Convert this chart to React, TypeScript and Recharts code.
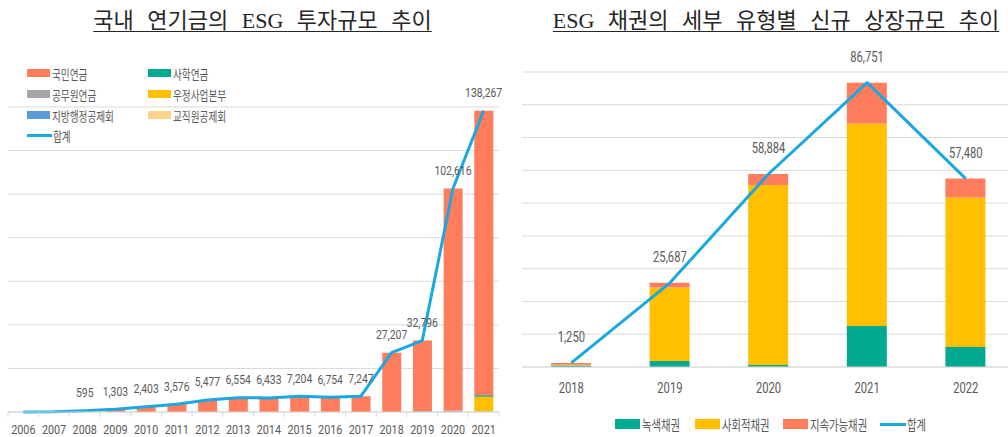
import React from "react";
import { ComposedChart, Bar, Line, XAxis, YAxis, CartesianGrid, LabelList } from "recharts";

// ---------- Left chart data: 국내 연기금의 ESG 투자규모 추이 ----------
const pensionYears = ["2006", "2007", "2008", "2009", "2010", "2011", "2012", "2013", "2014", "2015", "2016", "2017", "2018", "2019", "2020", "2021"];
const npsValues = [30, 150, 595, 1303, 2403, 3576, 5477, 6554, 6433, 7204, 6754, 7247, 27207, 32296, 101916, 130567]; // 국민연금
const teachersPensionValues = [0, 0, 0, 0, 0, 0, 0, 0, 0, 0, 0, 0, 0, 0, 0, 700]; // 사학연금
const civilPensionValues = [0, 0, 0, 0, 0, 0, 0, 0, 0, 0, 0, 0, 0, 500, 700, 300]; // 공무원연금
const postalValues = [0, 0, 0, 0, 0, 0, 0, 0, 0, 0, 0, 0, 0, 0, 0, 6700]; // 우정사업본부
const localGovValues = [0, 0, 0, 0, 0, 0, 0, 0, 0, 0, 0, 0, 0, 0, 0, 0]; // 지방행정공제회
const teachersMutualValues = [0, 0, 0, 0, 0, 0, 0, 0, 0, 0, 0, 0, 0, 0, 0, 0]; // 교직원공제회
const pensionTotal = [30, 150, 595, 1303, 2403, 3576, 5477, 6554, 6433, 7204, 6754, 7247, 27207, 32796, 102616, 138267]; // 합계
const pensionTotalLabels = ["", "", "595", "1,303", "2,403", "3,576", "5,477", "6,554", "6,433", "7,204", "6,754", "7,247", "27,207", "32,796", "102,616", "138,267"];
const pensionTicks = [0, 20000, 40000, 60000, 80000, 100000, 120000, 140000];

// ---------- Right chart data: ESG 채권의 세부 유형별 신규 상장규모 추이 ----------
const bondYears = ["2018", "2019", "2020", "2021", "2022"];
const greenBonds = [450, 1800, 600, 12500, 6100]; // 녹색채권
const socialBonds = [200, 22487, 54934, 61800, 45580]; // 사회적채권
const sustainableBonds = [600, 1400, 3350, 12451, 5800]; // 지속가능채권
const bondTotal = [1250, 25687, 58884, 86751, 57480]; // 합계
const bondTotalLabels = ["1,250", "25,687", "58,884", "86,751", "57,480"];
const bondTicks = [0, 10000, 20000, 30000, 40000, 50000, 60000, 70000, 80000, 90000];

// ---------- styles ----------
const FONT_KR = "'Noto Sans CJK KR', 'Noto Sans', sans-serif";
const FONT_TITLE = "'Liberation Serif', 'Noto Sans CJK KR', serif";
const FONT_NUM = "'Roboto', sans-serif";
const NUM_SCALE = 0.8;
const TEXT = "#595959";
const GRID = "#D9D9D9";
const C_NPS = "#FF7C5C";
const C_TEACH = "#00A98F";
const C_CIVIL = "#A5A5A5";
const C_POSTAL = "#FFC000";
const C_LOCAL = "#5B9BD5";
const C_MUTUAL = "#FFD38C";
const C_LINE = "#1BA7E0";

const pensionData = pensionYears.map((year, i) => ({
  year,
  nps: npsValues[i],
  teach: teachersPensionValues[i],
  civil: civilPensionValues[i],
  postal: postalValues[i],
  local: localGovValues[i],
  mutual: teachersMutualValues[i],
  total: pensionTotal[i],
  label: pensionTotalLabels[i],
}));

const bondData = bondYears.map((year, i) => ({
  year,
  green: greenBonds[i],
  social: socialBonds[i],
  sust: sustainableBonds[i],
  total: bondTotal[i],
  label: bondTotalLabels[i],
}));

// left chart geometry
const L_W = 505;
const L_M = { top: 107, right: 6, left: 8, bottom: 0 };
const L_BAND = (L_W - L_M.left - L_M.right) / pensionYears.length;
const L_TICK_MARGIN = 12;

// right chart geometry
const R_W = 520;
const R_M = { top: 72, right: 5, left: 22, bottom: 0 };
const R_TICK_MARGIN = 16;

function NarrowText({ x, y, size, children, dy, baseline }: any) {
  return (
    <text
      transform={`translate(${x},${y}) scale(${NUM_SCALE},1)`}
      textAnchor="middle"
      dy={dy}
      dominantBaseline={baseline}
      fontSize={size}
      fill={TEXT}
      fontFamily={FONT_NUM}
    >
      {children}
    </text>
  );
}

function PensionTick(props: any) {
  const { x, y, payload, index } = props;
  const half = L_BAND / 2;
  const axisY = y - L_TICK_MARGIN;
  return (
    <g>
      <line x1={x - half} x2={x - half} y1={axisY} y2={axisY + 5} stroke={GRID} />
      {index === pensionYears.length - 1 && (
        <line x1={x + half} x2={x + half} y1={axisY} y2={axisY + 5} stroke={GRID} />
      )}
      <NarrowText x={x} y={y} size={13.5} dy="0.71em">{payload.value}</NarrowText>
    </g>
  );
}

function BondTick(props: any) {
  const { x, y, payload } = props;
  return <NarrowText x={x} y={y} size={14} dy="0.71em">{payload.value}</NarrowText>;
}

const makeLabel = (offset: number, fontSize: number) => (props: any) => {
  const { x, y, value } = props;
  if (!value) return null;
  return <NarrowText x={x} y={y - offset} size={fontSize} baseline="central">{value}</NarrowText>;
};

const pensionLegend = [
  { name: "국민연금", color: C_NPS, type: "rect", col: 0, row: 0 },
  { name: "사학연금", color: C_TEACH, type: "rect", col: 1, row: 0 },
  { name: "공무원연금", color: C_CIVIL, type: "rect", col: 0, row: 1 },
  { name: "우정사업본부", color: C_POSTAL, type: "rect", col: 1, row: 1 },
  { name: "지방행정공제회", color: C_LOCAL, type: "rect", col: 0, row: 2 },
  { name: "교직원공제회", color: C_MUTUAL, type: "rect", col: 1, row: 2 },
  { name: "합계", color: C_LINE, type: "line", col: 0, row: 3 },
];
const L_LEG_X = [27, 148];
const L_LEG_Y = [73, 94, 115, 135];

const bondLegend = [
  { name: "녹색채권", color: C_TEACH, type: "rect" },
  { name: "사회적채권", color: C_POSTAL, type: "rect" },
  { name: "지속가능채권", color: C_NPS, type: "rect" },
  { name: "합계", color: C_LINE, type: "line" },
];
const R_LEG_X = [615, 695, 783, 880];
const R_LEG_Y = 424;

function LegendText({ children, size }: { children: any; size: number }) {
  return (
    <span
      style={{
        display: "inline-block",
        fontFamily: FONT_KR,
        fontSize: size,
        color: TEXT,
        transform: "scaleX(0.74)",
        transformOrigin: "left center",
        whiteSpace: "nowrap",
        lineHeight: 1,
      }}
    >
      {children}
    </span>
  );
}

const titleStyle: React.CSSProperties = {
  position: "absolute",
  top: 7,
  textAlign: "center",
  fontFamily: FONT_TITLE,
  fontSize: 22,
  lineHeight: "27px",
  color: "#262626",
  textDecoration: "underline",
  textDecorationThickness: 1,
  textUnderlineOffset: 3,
  wordSpacing: 8,
  whiteSpace: "nowrap",
};

export default function App() {
  return (
    <div style={{ position: "absolute", left: 0, top: 0, width: 1008, height: 437, overflow: "hidden", background: "#fff" }}>
      {/* Titles */}
      <div style={{ ...titleStyle, left: 0, width: 525 }}>국내 연기금의 ESG 투자규모 추이</div>
      <div style={{ ...titleStyle, left: 540, width: 472 }}>ESG 채권의 세부 유형별 신규 상장규모 추이</div>

      {/* Left chart */}
      <div style={{ position: "absolute", left: 0, top: 0 }}>
        <ComposedChart width={L_W} height={437} data={pensionData} margin={L_M}>
          <CartesianGrid vertical={false} stroke={GRID} />
          <XAxis
            dataKey="year" height={25} interval={0} tickSize={0} tickMargin={L_TICK_MARGIN}
            axisLine={{ stroke: GRID }} tickLine={false} tick={<PensionTick />}
          />
          <YAxis hide domain={[0, 140000]} ticks={pensionTicks} />
          <Bar dataKey="civil" stackId="p" fill={C_CIVIL} barSize={19} isAnimationActive={false} />
          <Bar dataKey="postal" stackId="p" fill={C_POSTAL} barSize={19} isAnimationActive={false} />
          <Bar dataKey="teach" stackId="p" fill={C_TEACH} barSize={19} isAnimationActive={false} />
          <Bar dataKey="local" stackId="p" fill={C_LOCAL} barSize={19} isAnimationActive={false} />
          <Bar dataKey="mutual" stackId="p" fill={C_MUTUAL} barSize={19} isAnimationActive={false} />
          <Bar dataKey="nps" stackId="p" fill={C_NPS} barSize={19} isAnimationActive={false} />
          <Line dataKey="total" stroke={C_LINE} strokeWidth={3} dot={false} activeDot={false} isAnimationActive={false} strokeLinejoin="round">
            <LabelList dataKey="label" content={makeLabel(18, 13)} />
          </Line>
        </ComposedChart>
      </div>

      {/* Left legend */}
      {pensionLegend.map((item) => (
        <div
          key={item.name}
          style={{ position: "absolute", left: L_LEG_X[item.col], top: L_LEG_Y[item.row] - 8, height: 16, display: "flex", alignItems: "center" }}
        >
          {item.type === "rect" ? (
            <div style={{ width: 23, height: 8, background: item.color, marginRight: 2 }} />
          ) : (
            <div style={{ width: 25, height: 3, background: item.color, marginRight: 1 }} />
          )}
          <LegendText size={13}>{item.name}</LegendText>
        </div>
      ))}

      {/* Right chart */}
      <div style={{ position: "absolute", left: 500, top: 0 }}>
        <ComposedChart width={R_W} height={437} data={bondData} margin={R_M}>
          <CartesianGrid vertical={false} stroke={GRID} />
          <XAxis
            dataKey="year" height={70} interval={0} tickSize={0} tickMargin={R_TICK_MARGIN}
            axisLine={{ stroke: GRID }} tickLine={false} tick={<BondTick />}
          />
          <YAxis hide domain={[0, 90000]} ticks={bondTicks} />
          <Bar dataKey="green" stackId="b" fill={C_TEACH} barSize={40} isAnimationActive={false} />
          <Bar dataKey="social" stackId="b" fill={C_POSTAL} barSize={40} isAnimationActive={false} />
          <Bar dataKey="sust" stackId="b" fill={C_NPS} barSize={40} isAnimationActive={false} />
          <Line dataKey="total" stroke={C_LINE} strokeWidth={3} dot={false} activeDot={false} isAnimationActive={false} strokeLinejoin="round">
            <LabelList dataKey="label" content={makeLabel(26, 14)} />
          </Line>
        </ComposedChart>
      </div>

      {/* Right legend */}
      {bondLegend.map((item, i) => (
        <div
          key={item.name}
          style={{ position: "absolute", left: R_LEG_X[i], top: R_LEG_Y - 8, height: 16, display: "flex", alignItems: "center" }}
        >
          {item.type === "rect" ? (
            <div style={{ width: 25, height: 10, background: item.color, marginRight: 2 }} />
          ) : (
            <div style={{ width: 26, height: 3, background: item.color, marginRight: 1 }} />
          )}
          <LegendText size={14}>{item.name}</LegendText>
        </div>
      ))}
    </div>
  );
}
